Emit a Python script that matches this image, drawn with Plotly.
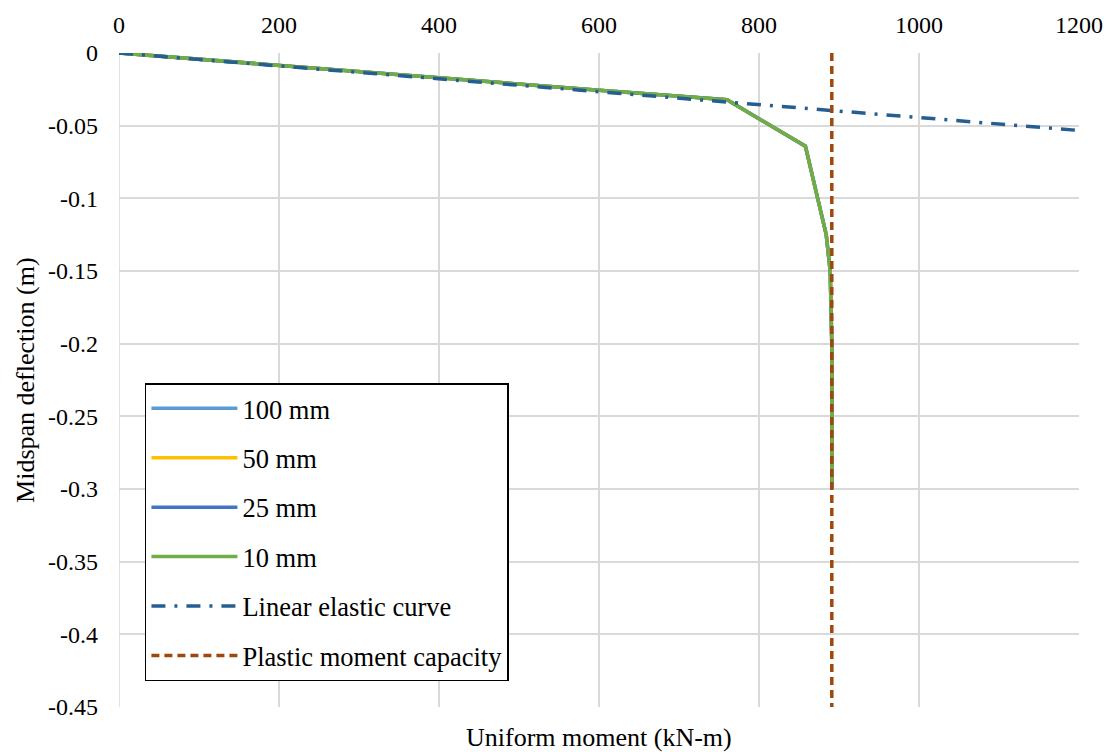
import plotly.graph_objects as go

# Data
moment_100 = [0, 200, 400, 600, 760, 858, 884, 889, 891, 891]
defl_100 = [0, -0.0087, -0.0172, -0.0256, -0.0322, -0.0641, -0.125, -0.15, -0.20, -0.30]
moment_50 = [0, 200, 400, 600, 760, 858, 884, 889, 891, 891]
defl_50 = [0, -0.0087, -0.0172, -0.0256, -0.0322, -0.0641, -0.125, -0.15, -0.20, -0.30]
moment_25 = [0, 200, 400, 600, 760, 858, 884, 889, 891, 891]
defl_25 = [0, -0.0087, -0.0172, -0.0256, -0.0322, -0.0641, -0.125, -0.15, -0.20, -0.30]
moment_10 = [0, 200, 400, 600, 760, 858, 884, 889, 891, 891]
defl_10 = [0, -0.0087, -0.0172, -0.0256, -0.0322, -0.0641, -0.125, -0.15, -0.20, -0.30]
elastic_moment = [0, 1200]
elastic_defl = [0, -0.0533]
plastic_moment = [891, 891]
plastic_defl = [0, -0.45]

x_ticks = [0, 200, 400, 600, 800, 1000, 1200]
y_ticks = [0, -0.05, -0.1, -0.15, -0.2, -0.25, -0.3, -0.35, -0.4, -0.45]
y_ticktext = ["0", "-0.05", "-0.1", "-0.15", "-0.2", "-0.25", "-0.3", "-0.35", "-0.4", "-0.45"]

FONT = "Liberation Serif, Times New Roman, serif"
TICK = 24
TXT = 26

fig = go.Figure()
series = [
    ("100 mm", moment_100, defl_100, "#5B9BD5", "solid"),
    ("50 mm", moment_50, defl_50, "#FFC000", "solid"),
    ("25 mm", moment_25, defl_25, "#4472C4", "solid"),
    ("10 mm", moment_10, defl_10, "#70AD47", "solid"),
]
for i, (name, x, y, c, d) in enumerate(series):
    fig.add_trace(go.Scatter(x=x, y=y, mode="lines", name=name, legendgroup=str(i),
                             line=dict(color=c, width=3.5, dash=d)))
fig.add_trace(go.Scatter(x=elastic_moment, y=elastic_defl, mode="lines", name="Linear elastic curve",
                         legendgroup="4", line=dict(color="#255E91", width=3.5, dash="14px,9px,3px,9px")))
fig.add_trace(go.Scatter(x=plastic_moment, y=plastic_defl, mode="lines", name="Plastic moment capacity",
                         legendgroup="5", line=dict(color="#9E480E", width=3.5, dash="8px,5px")))

fig.update_layout(
    width=1115, height=752,
    margin=dict(l=119, r=36, t=53, b=45),
    paper_bgcolor="white", plot_bgcolor="white",
    font=dict(family=FONT, size=TXT, color="black"),
    showlegend=True,
    legend=dict(x=0.027, y=0.4954, xanchor="left", yanchor="top",
                bordercolor="black", borderwidth=1.5, bgcolor="white",
                font=dict(family=FONT, size=26.5), tracegroupgap=12,
                traceorder="grouped", itemwidth=86),
    xaxis=dict(side="top", range=[0, 1200], tickvals=x_ticks, showgrid=True,
               gridcolor="#D9D9D9", gridwidth=1.5, zeroline=False, showline=False,
               ticks="", ticklabelstandoff=14, tickfont=dict(family=FONT, size=TICK)),
    yaxis=dict(range=[-0.45, 0], tickvals=y_ticks, ticktext=y_ticktext, showgrid=True,
               gridcolor="#D9D9D9", gridwidth=1.5, zeroline=False, showline=False,
               ticks="", ticklabelstandoff=20,
               tickfont=dict(family=FONT, size=TICK)),
    annotations=[
        dict(text="Uniform moment (kN-m)", x=0.5, y=-0.046, xref="paper", yref="paper",
             xanchor="center", yanchor="middle", showarrow=False,
             font=dict(family=FONT, size=TXT)),
        dict(text="Midspan deflection (m)", x=-0.098, y=0.5, xref="paper", yref="paper",
             xanchor="center", yanchor="middle", textangle=-90, showarrow=False,
             font=dict(family=FONT, size=TXT)),
    ],
)
fig.add_shape(type="line", xref="x", yref="paper", x0=0, x1=0, y0=0, y1=1,
              line=dict(color="#D9D9D9", width=1.5), layer="below")

fig.write_html("out.html")
